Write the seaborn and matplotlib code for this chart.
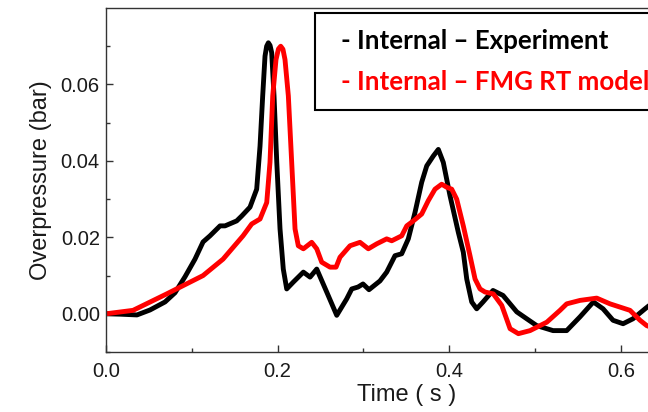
import numpy as np
import pandas as pd
import matplotlib
matplotlib.use("Agg")
import matplotlib.pyplot as plt
import seaborn as sns

# Internal - Experiment (time in s, overpressure in bar)
exp_time = [0.0, 0.0163, 0.0361, 0.0513, 0.0688, 0.0804, 0.0921, 0.1037, 0.1131, 0.1212,
            0.1329, 0.1387, 0.1523, 0.1582, 0.1678, 0.1756, 0.1795, 0.1826, 0.1853, 0.1872,
            0.1892, 0.1912, 0.1931, 0.1958, 0.1990, 0.2028, 0.2066, 0.2106, 0.2183, 0.2300,
            0.2378, 0.2456, 0.2572, 0.2689, 0.2805, 0.2864, 0.2937, 0.2995, 0.3065, 0.3193,
            0.3271, 0.3368, 0.3446, 0.3523, 0.3601, 0.3679, 0.3738, 0.3815, 0.3873, 0.3931,
            0.4009, 0.4106, 0.4164, 0.4204, 0.4262, 0.4320, 0.4394, 0.4510, 0.4627, 0.4787,
            0.4903, 0.5020, 0.5210, 0.5369, 0.5524, 0.5680, 0.5793, 0.5909, 0.6026, 0.6142,
            0.6282, 0.6399]
exp_p = [0.0, -0.0001, -0.0003, 0.0010, 0.0031, 0.0055, 0.0097, 0.0143, 0.0188, 0.0204,
         0.0230, 0.0230, 0.0243, 0.0256, 0.0279, 0.0326, 0.0439, 0.0570, 0.0674, 0.0700,
         0.0709, 0.0702, 0.0683, 0.0570, 0.0397, 0.0222, 0.0117, 0.0065, 0.0083, 0.0109,
         0.0096, 0.0117, 0.0057, -0.0004, 0.0039, 0.0065, 0.0070, 0.0078, 0.0063, 0.0086,
         0.0109, 0.0152, 0.0157, 0.0196, 0.0265, 0.0344, 0.0387, 0.0413, 0.0430, 0.0396,
         0.0309, 0.0213, 0.0161, 0.0091, 0.0031, 0.0013, 0.0031, 0.0061, 0.0048, 0.0005,
         -0.0013, -0.0031, -0.0044, -0.0044, -0.0008, 0.0031, 0.0013, -0.0017, -0.0026, -0.0013,
         0.0013, 0.0034]

# Internal - FMG RT model
mod_time = [0.0, 0.0315, 0.0707, 0.1131, 0.1364, 0.1597, 0.1698, 0.1795, 0.1873, 0.1911,
            0.1943, 0.1981, 0.2010, 0.2036, 0.2062, 0.2086, 0.2125, 0.2164, 0.2203, 0.2241,
            0.2300, 0.2397, 0.2456, 0.2514, 0.2611, 0.2681, 0.2727, 0.2844, 0.2960, 0.3057,
            0.3155, 0.3271, 0.3330, 0.3446, 0.3505, 0.3582, 0.3679, 0.3756, 0.3834, 0.3912,
            0.3971, 0.4029, 0.4087, 0.4164, 0.4242, 0.4301, 0.4359, 0.4417, 0.4514, 0.4612,
            0.4709, 0.4806, 0.4942, 0.5137, 0.5291, 0.5369, 0.5524, 0.5719, 0.5874, 0.6107,
            0.6224, 0.6302, 0.6399]
mod_p = [0.0, 0.0009, 0.0052, 0.0100, 0.0143, 0.0204, 0.0235, 0.0248, 0.0291, 0.0396,
         0.0570, 0.0665, 0.0693, 0.0700, 0.0692, 0.0665, 0.0570, 0.0396, 0.0222, 0.0178,
         0.0170, 0.0187, 0.0170, 0.0135, 0.0122, 0.0122, 0.0148, 0.0178, 0.0187, 0.0170,
         0.0183, 0.0196, 0.0191, 0.0204, 0.0230, 0.0243, 0.0261, 0.0296, 0.0326, 0.0339,
         0.0331, 0.0326, 0.0300, 0.0230, 0.0152, 0.0091, 0.0065, 0.0057, 0.0052, 0.0022,
         -0.0039, -0.0052, -0.0044, -0.0022, 0.0009, 0.0026, 0.0035, 0.0041, 0.0026, 0.0009,
         -0.0017, -0.0031, -0.0039]

labels = ["- Internal \u2013 Experiment", "- Internal \u2013 FMG RT model"]

sns.set_theme(style="white")
plt.rcParams['font.family'] = ['Liberation Sans', 'DejaVu Sans']

fig = plt.figure(figsize=(6.48, 4.12), dpi=100)
ax = fig.add_axes([0.1636, 0.1456, 0.9269, 0.835])

sns.lineplot(x=exp_time, y=exp_p, ax=ax, color='black', lw=3.5, sort=False,
             solid_joinstyle='round', label=labels[0])
sns.lineplot(x=mod_time, y=mod_p, ax=ax, color='red', lw=3.5, sort=False,
             solid_joinstyle='round', label=labels[1])

ax.set_xlim(0, 0.7)
ax.set_ylim(-0.01, 0.08)
ax.set_xticks([0.0, 0.2, 0.4, 0.6])
ax.set_xticks([0.1, 0.3, 0.5], minor=True)
ax.set_yticks([0.0, 0.02, 0.04, 0.06])
ax.set_yticks([-0.01, 0.01, 0.03, 0.05, 0.07], minor=True)
ax.xaxis.set_major_formatter(matplotlib.ticker.FormatStrFormatter('%.1f'))
ax.yaxis.set_major_formatter(matplotlib.ticker.FormatStrFormatter('%.2f'))
ax.tick_params(axis='both', which='major', direction='in', length=5, width=1,
               color='#333333', labelsize=14.5, labelcolor='#1a1a1a')
ax.tick_params(axis='both', which='minor', direction='in', length=3, width=1,
               color='#333333')
ax.tick_params(axis='x', which='major', pad=7)
ax.tick_params(axis='y', which='major', pad=4.5)
ax.tick_params(top=False, right=False, bottom=True, left=True, which='both')

for s in ax.spines.values():
    s.set_color('#333333')
    s.set_linewidth(1.0)

ax.set_xlabel("Time ( s )", fontsize=17, color='#1a1a1a', labelpad=2)
ax.set_ylabel("Overpressure (bar)", fontsize=17, color='#1a1a1a', labelpad=6)

leg = ax.legend(loc='upper left', bbox_to_anchor=(0.348, 0.9855), borderaxespad=0,
                handlelength=0, handletextpad=0.37, fancybox=False, framealpha=1,
                borderpad=0.62, labelspacing=0.64, labelcolor=['black', 'red'],
                prop={'family': 'Lato', 'weight': 'bold', 'size': 18.6})
for h in leg.legend_handles:
    h.set_visible(False)
leg.get_frame().set_edgecolor('black')
leg.get_frame().set_linewidth(1.5)

fig.savefig("out.png", dpi=100)
